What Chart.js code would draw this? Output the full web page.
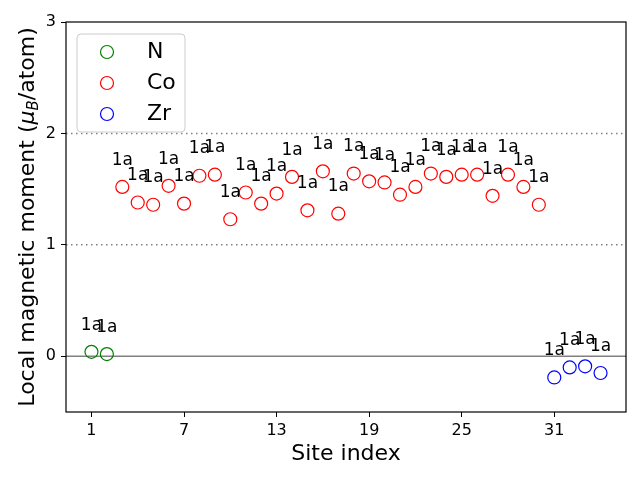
<!DOCTYPE html>
<html>
<head>
<meta charset="utf-8">
<script src="https://cdn.jsdelivr.net/npm/chart.js@4/dist/chart.umd.min.js"></script>
<style>
html, body { margin: 0; padding: 0; background: #fff; }
#wrap { width: 640px; height: 480px; }
</style>
</head>
<body>
<div id="wrap"><canvas id="chart" width="640" height="480"></canvas></div>
<script>
// site indices and local moments (mu_B / atom) per species
const siteN = [1, 2];
const momentN = [0.04, 0.02];
const siteCo = [3, 4, 5, 6, 7, 8, 9, 10, 11, 12, 13, 14, 15, 16, 17, 18, 19, 20, 21, 22, 23, 24, 25, 26, 27, 28, 29, 30];
const momentCo = [1.52, 1.38, 1.36, 1.53, 1.37, 1.62, 1.63, 1.23, 1.47, 1.37, 1.46, 1.61, 1.31, 1.66, 1.28, 1.64,
    1.57, 1.56, 1.45, 1.52, 1.64, 1.61, 1.63, 1.63, 1.44, 1.63, 1.52, 1.36];
const siteZr = [31, 32, 33, 34];
const momentZr = [-0.19, -0.10, -0.09, -0.15];
const wyckoff = "1a";

const xTicks = [1, 7, 13, 19, 25, 31];
const yTicks = [0, 1, 2, 3];
const dottedLevels = [1, 2];

const FONT = "'DejaVu Sans', sans-serif";

function toPoints(xs, ys) {
    return xs.map((x, i) => ({ x: x, y: ys[i] }));
}

function makeSet(label, xs, ys, color) {
    return {
        label: label,
        data: toPoints(xs, ys),
        borderColor: color,
        backgroundColor: "rgba(0,0,0,0)",
        pointStyle: "circle",
        pointRadius: 6.5,
        pointBorderWidth: 1.2,
        showLine: false,
    };
}

// reference lines, frame, site labels, y title with subscript and legend
const decorPlugin = {
    id: "decor",
    beforeDatasetsDraw(chart) {
        const c = chart.ctx;
        const a = chart.chartArea;
        const y = chart.scales.y;
        c.save();
        c.strokeStyle = "#808080";
        c.lineWidth = 1.5;
        c.setLineDash([1.5, 3.5]);
        dottedLevels.forEach((v) => {
            const py = y.getPixelForValue(v);
            c.beginPath();
            c.moveTo(a.left, py);
            c.lineTo(a.right, py);
            c.stroke();
        });
        c.setLineDash([]);
        const p0 = y.getPixelForValue(0);
        c.beginPath();
        c.moveTo(a.left, p0);
        c.lineTo(a.right, p0);
        c.stroke();
        c.restore();
    },
    afterDatasetsDraw(chart) {
        const c = chart.ctx;
        const a = chart.chartArea;
        const xs = chart.scales.x;
        const ys = chart.scales.y;
        c.save();
        // site labels
        c.fillStyle = "#000";
        c.font = "17px " + FONT;
        c.textAlign = "center";
        c.textBaseline = "alphabetic";
        chart.data.datasets.forEach((ds) => {
            ds.data.forEach((p) => {
                c.fillText(wyckoff, xs.getPixelForValue(p.x), ys.getPixelForValue(p.y + 0.2));
            });
        });

        // frame
        c.strokeStyle = "#000";
        c.lineWidth = 1.2;
        c.strokeRect(a.left, a.top, a.right - a.left, a.bottom - a.top);

        // y title
        const parts = [
            { t: "Local magnetic moment (", f: "22px " + FONT, dy: 0 },
            { t: "\u03bc", f: "italic 22px " + FONT, dy: 0 },
            { t: "B", f: "italic 15px " + FONT, dy: 4 },
            { t: "/atom)", f: "22px " + FONT, dy: 0 },
        ];
        let total = 0;
        parts.forEach((p) => { c.font = p.f; p.w = c.measureText(p.t).width; total += p.w; });
        c.translate(34, (a.top + a.bottom) / 2);
        c.rotate(-Math.PI / 2);
        c.textAlign = "left";
        let cx = -total / 2;
        parts.forEach((p) => {
            c.font = p.f;
            c.fillText(p.t, cx, p.dy);
            cx += p.w;
        });
        c.setTransform(1, 0, 0, 1, 0, 0);

        // legend
        const lx = 77, ly = 34, lw = 108, lh = 98;
        c.fillStyle = "rgba(255,255,255,0.8)";
        c.strokeStyle = "#cccccc";
        c.lineWidth = 1;
        c.beginPath();
        c.roundRect(lx, ly, lw, lh, 4);
        c.fill();
        c.stroke();
        c.font = "22px " + FONT;
        c.textBaseline = "middle";
        chart.data.datasets.forEach((ds, i) => {
            const my = 52 + i * 31;
            c.strokeStyle = ds.borderColor;
            c.lineWidth = 1.2;
            c.beginPath();
            c.arc(107, my, 6.5, 0, Math.PI * 2);
            c.stroke();
            c.fillStyle = "#000";
            c.fillText(ds.label, 147, my);
        });
        c.restore();
    },
};

const config = {
    type: "scatter",
    data: {
        datasets: [
            makeSet("N", siteN, momentN, "green"),
            makeSet("Co", siteCo, momentCo, "red"),
            makeSet("Zr", siteZr, momentZr, "blue"),
        ],
    },
    options: {
        responsive: false,
        animation: false,
        layout: { padding: { left: 0, top: 22, right: 14, bottom: 0 } },
        plugins: {
            legend: { display: false },
            tooltip: { enabled: false },
        },
        scales: {
            x: {
                type: "linear",
                min: -0.65,
                max: 35.65,
                afterBuildTicks: (scale) => { scale.ticks = xTicks.map((v) => ({ value: v })); },
                afterFit: (scale) => { scale.height = 68; },
                grid: { drawOnChartArea: false, drawTicks: true, tickLength: 5, color: "#000", tickWidth: 1 },
                border: { display: false },
                ticks: { color: "#000", font: { family: FONT, size: 16 }, padding: 4, maxRotation: 0 },
                title: {
                    display: true,
                    text: "Site index",
                    color: "#000",
                    font: { family: FONT, size: 22 },
                    padding: { top: 2, bottom: 13 },
                },
            },
            y: {
                type: "linear",
                min: -0.5,
                max: 3,
                afterBuildTicks: (scale) => { scale.ticks = yTicks.map((v) => ({ value: v })); },
                afterFit: (scale) => { scale.width = 66; },
                grid: { drawOnChartArea: false, drawTicks: true, tickLength: 5, color: "#000", tickWidth: 1 },
                border: { display: false },
                ticks: { color: "#000", font: { family: FONT, size: 16 }, padding: 5 },
            },
        },
    },
    plugins: [decorPlugin],
};

const globalChart = new Chart(document.getElementById("chart").getContext("2d"), config);
</script>
</body>
</html>
